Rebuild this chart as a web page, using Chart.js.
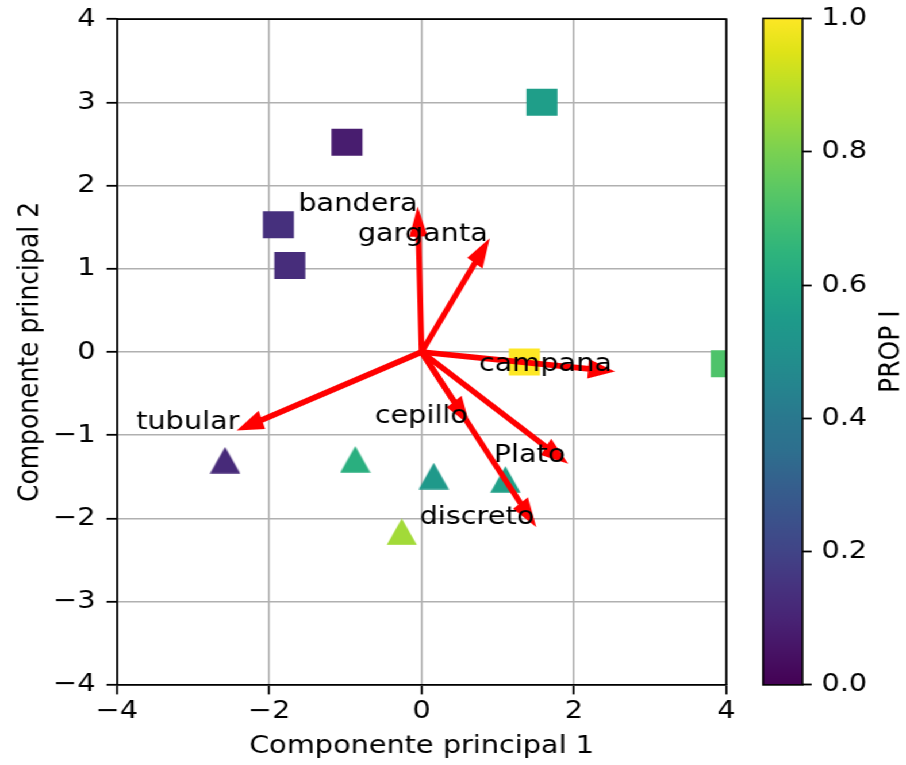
<!DOCTYPE html>
<html>
<head>
<meta charset="utf-8">
<script src="https://cdn.jsdelivr.net/npm/chart.js@4.4.1/dist/chart.umd.min.js"></script>
<style>
  html, body { margin: 0; padding: 0; background: #fff; overflow: hidden; }
  /* the figure is laid out at 788px and widened to the 906px page */
  #figure { position: absolute; left: 0; top: 0; width: 788px; height: 765px;
            transform: scaleX(1.1497); transform-origin: 0 0; }
  #main { position: absolute; left: 0; top: 0; }
  #cbar { position: absolute; left: 640px; top: 0; }
</style>
</head>
<body>
<div id="figure">
  <canvas id="main" width="788" height="765"></canvas>
  <canvas id="cbar" width="148" height="765"></canvas>
</div>
<script>
// ---- data ---------------------------------------------------------------
// group drawn with squares
const squareX    = [-0.98, -1.88, -1.73, 1.58, 1.35, 4.00];
const squareY    = [ 2.52,  1.53,  1.04, 3.00, -0.12, -0.14];
const squareProp = [ 0.08,  0.14,  0.13, 0.56, 1.00,  0.72];

// group drawn with triangles
const triangleX    = [-2.58, -0.87,  0.16,  1.10, -0.26];
const triangleY    = [-1.30, -1.29, -1.49, -1.53, -2.16];
const triangleProp = [ 0.12,  0.63,  0.54,  0.57,  0.86];

// variable loadings (arrow tips)
const loadingNames = ['bandera', 'garganta', 'campana', 'Plato', 'discreto', 'cepillo', 'tubular'];
const loadingX     = [-0.05, 0.87,  2.50,  1.89,  1.48,  0.61, -2.39];
const loadingY     = [ 1.70, 1.33, -0.23, -1.32, -2.07, -0.85, -0.93];

// tick labels
const xTickValues    = [-4, -2, 0, 2, 4];
const yTickValues    = [-4, -3, -2, -1, 0, 1, 2, 3, 4];
const cbarTickValues = [0, 0.2, 0.4, 0.6, 0.8, 1.0];

// ---- viridis colormap ---------------------------------------------------
const VIRIDIS = ['#440154','#471365','#482475','#46337f','#414487','#3b528b','#355f8d',
                 '#2e6f8e','#2a788e','#25858e','#21918c','#1e9b8a','#22a884','#2fb47c',
                 '#44bf70','#5ec962','#7ad151','#9bd93c','#bddf26','#dfe318','#fde725'];
function hexRgb(h) {
  return [parseInt(h.slice(1,3),16), parseInt(h.slice(3,5),16), parseInt(h.slice(5,7),16)];
}
function viridis(t) {
  const n = VIRIDIS.length - 1;
  const f = Math.min(Math.max(t, 0), 1) * n;
  const i = Math.min(Math.floor(f), n - 1);
  const k = f - i;
  const a = hexRgb(VIRIDIS[i]), b = hexRgb(VIRIDIS[i + 1]);
  const c = a.map((v, j) => Math.round(v + (b[j] - v) * k));
  return `rgb(${c[0]},${c[1]},${c[2]})`;
}

// upward triangle marker as a small sprite (bounding box centred on the point)
function triangleSprite(color) {
  const s = 27;
  const c = document.createElement('canvas');
  c.width = s; c.height = s;
  const g = c.getContext('2d');
  g.fillStyle = color;
  g.beginPath();
  g.moveTo(s / 2, 0.3);
  g.lineTo(s - 0.3, s - 0.3);
  g.lineTo(0.3, s - 0.3);
  g.closePath();
  g.fill();
  return c;
}
const triangleSprites = triangleProp.map(p => triangleSprite(viridis(p)));

const FONT = { family: '"DejaVu Sans", sans-serif', size: 25 };
const minusFmt = v => (v < 0 ? '\u2212' + Math.abs(v) : String(v));

// keep the vertical axes from pushing the plot area down
const noEdgePadding = s => { s.paddingTop = 0; s.paddingBottom = 0; };

// ---- arrows with labels + top/right frame --------------------------------
const SHAFT_W = 0.045, HEAD_W = 0.2, HEAD_L = 0.3;
function arrowOutline(tx, ty) {
  const len = Math.hypot(tx, ty);
  const ux = tx / len, uy = ty / len, nx = -uy, ny = ux;
  const b = len - HEAD_L, w = SHAFT_W / 2, h = HEAD_W / 2;
  return [
    [nx * w, ny * w],
    [ux * b + nx * w, uy * b + ny * w],
    [ux * b + nx * h, uy * b + ny * h],
    [tx, ty],
    [ux * b - nx * h, uy * b - ny * h],
    [ux * b - nx * w, uy * b - ny * w],
    [-nx * w, -ny * w]
  ];
}

const overlayPlugin = {
  id: 'biplotOverlay',
  afterDraw(chart) {
    const { ctx, chartArea: a, scales: { x, y } } = chart;
    ctx.save();
    // top and right spines
    ctx.strokeStyle = '#000';
    ctx.lineWidth = 1.8;
    ctx.beginPath();
    ctx.moveTo(a.left, a.top);
    ctx.lineTo(a.right, a.top);
    ctx.lineTo(a.right, a.bottom);
    ctx.stroke();

    // loading arrows
    ctx.fillStyle = '#ff0000';
    ctx.strokeStyle = '#ff0000';
    ctx.lineWidth = 2;
    ctx.lineJoin = 'miter';
    loadingX.forEach((lx, i) => {
      const pts = arrowOutline(lx, loadingY[i]);
      ctx.beginPath();
      pts.forEach(([px, py], j) => {
        const X = x.getPixelForValue(px), Y = y.getPixelForValue(py);
        if (j === 0) ctx.moveTo(X, Y); else ctx.lineTo(X, Y);
      });
      ctx.closePath();
      ctx.fill();
      ctx.stroke();
    });

    // loading names
    ctx.fillStyle = '#000';
    ctx.font = `${FONT.size}px ${FONT.family}`;
    ctx.textAlign = 'right';
    ctx.textBaseline = 'alphabetic';
    loadingNames.forEach((name, i) => {
      ctx.fillText(name, x.getPixelForValue(loadingX[i]), y.getPixelForValue(loadingY[i]));
    });
    ctx.restore();
  }
};

new Chart(document.getElementById('main'), {
  type: 'scatter',
  data: {
    datasets: [
      {
        label: 'cuadrados',
        data: squareX.map((v, i) => ({ x: v, y: squareY[i] })),
        pointStyle: 'rect',
        pointRadius: 19.1,
        pointBorderWidth: 0,
        pointBackgroundColor: squareProp.map(viridis),
        clip: 0
      },
      {
        label: 'triángulos',
        data: triangleX.map((v, i) => ({ x: v, y: triangleY[i] })),
        pointStyle: (c) => triangleSprites[c.dataIndex] || 'triangle',
        pointRadius: 14,
        pointBorderWidth: 0,
        pointBackgroundColor: triangleProp.map(viridis),
        clip: 0
      }
    ]
  },
  options: {
    responsive: false,
    animation: false,
    events: [],
    layout: { padding: { top: 18.4, right: 156.3, bottom: 0, left: 0 } },
    plugins: { legend: { display: false }, tooltip: { enabled: false } },
    scales: {
      x: {
        type: 'linear', min: -4, max: 4, z: 1,
        afterBuildTicks: s => { s.ticks = xTickValues.map(v => ({ value: v })); },
        ticks: { font: FONT, color: '#000', padding: 2.5, maxRotation: 0, autoSkip: false, callback: minusFmt },
        grid: { color: '#b0b0b0', lineWidth: 1.6, tickColor: '#000', tickWidth: 1.8, tickLength: 9.5 },
        border: { color: '#000', width: 1.8 },
        title: { display: true, text: 'Componente principal 1', font: FONT, color: '#000',
                 padding: { top: 0, bottom: 3.5 } },
        afterFit: s => { s.height = 80.1; }
      },
      y: {
        type: 'linear', min: -4, max: 4, z: 1,
        afterBuildTicks: s => { s.ticks = yTickValues.map(v => ({ value: v })); },
        ticks: { font: FONT, color: '#000', padding: 9.5, autoSkip: false, callback: minusFmt },
        grid: { color: '#b0b0b0', lineWidth: 1.6, tickColor: '#000', tickWidth: 1.8, tickLength: 9 },
        border: { color: '#000', width: 1.8 },
        title: { display: true, text: 'Componente principal 2', font: FONT, color: '#000',
                 padding: { top: 11, bottom: 0 } },
        afterFit: s => { s.width = 101.7; noEdgePadding(s); }
      }
    }
  },
  plugins: [overlayPlugin]
});

// ---- colorbar -----------------------------------------------------------
const colorbarPlugin = {
  id: 'colorbar',
  afterDraw(chart) {
    const { ctx, chartArea: a } = chart;
    ctx.save();
    const grad = ctx.createLinearGradient(0, a.bottom, 0, a.top);
    VIRIDIS.forEach((c, i) => grad.addColorStop(i / (VIRIDIS.length - 1), c));
    ctx.fillStyle = grad;
    ctx.fillRect(a.left, a.top, a.right - a.left, a.bottom - a.top);
    ctx.strokeStyle = '#000';
    ctx.lineWidth = 1.6;
    ctx.strokeRect(a.left, a.top, a.right - a.left, a.bottom - a.top);

    ctx.translate(135.4, (a.top + a.bottom) / 2);
    ctx.rotate(-Math.PI / 2);
    ctx.fillStyle = '#000';
    ctx.font = `${FONT.size}px ${FONT.family}`;
    ctx.textAlign = 'center';
    ctx.textBaseline = 'middle';
    ctx.fillText('PROP I', 0, 0);
    ctx.restore();
  }
};

new Chart(document.getElementById('cbar'), {
  type: 'scatter',
  data: { datasets: [] },
  options: {
    responsive: false,
    animation: false,
    events: [],
    layout: { padding: { top: 18.4, bottom: 80.1, left: 23.7, right: 0 } },
    plugins: { legend: { display: false }, tooltip: { enabled: false } },
    scales: {
      x: { display: false, min: 0, max: 1 },
      y: {
        position: 'right', min: 0, max: 1,
        afterBuildTicks: s => { s.ticks = cbarTickValues.map(v => ({ value: v })); },
        ticks: { font: FONT, color: '#000', padding: 8.5, callback: v => v.toFixed(1) },
        grid: { drawOnChartArea: false, tickColor: '#000', tickWidth: 1.8, tickLength: 8 },
        border: { display: false },
        afterFit: s => { s.width = 90; noEdgePadding(s); }
      }
    }
  },
  plugins: [colorbarPlugin]
});
</script>
</body>
</html>
